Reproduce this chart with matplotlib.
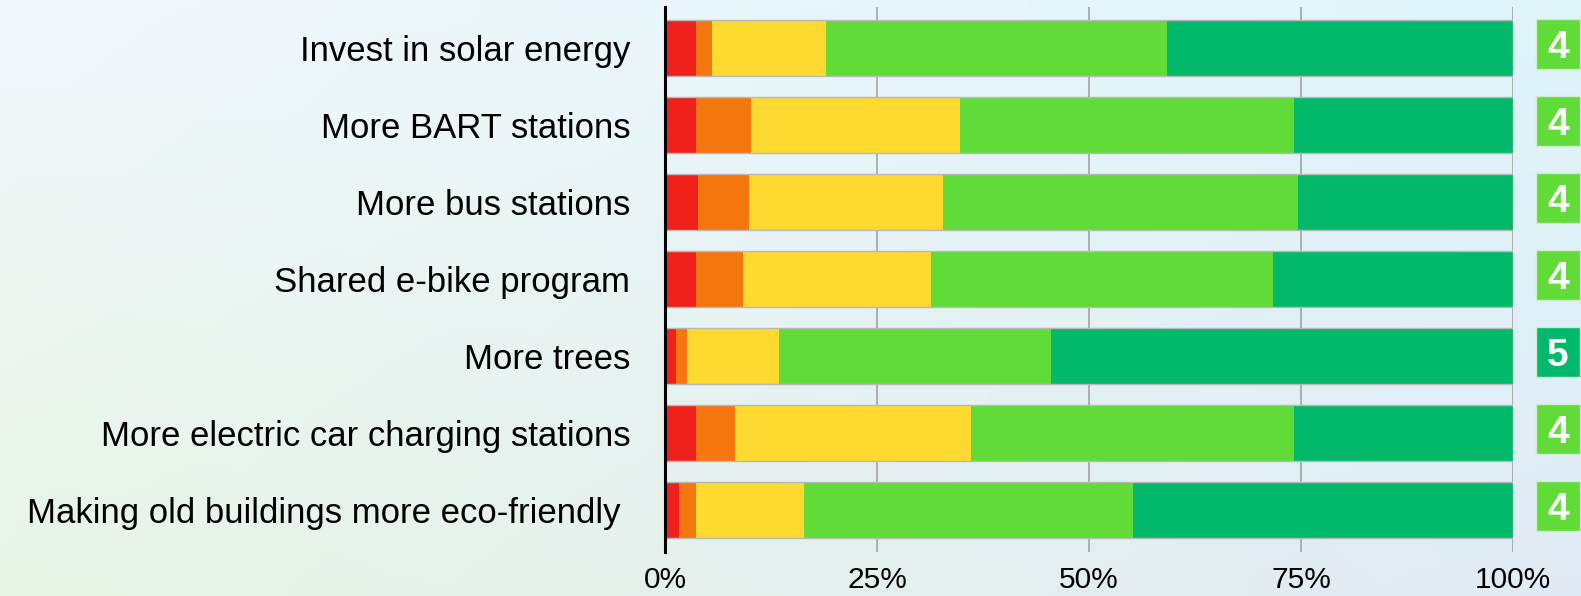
import matplotlib
matplotlib.use("Agg")
import matplotlib.pyplot as plt
import matplotlib.transforms as mtransforms
from matplotlib.patches import Rectangle
import numpy as np

plt.rcParams['font.family'] = ['Liberation Sans', 'DejaVu Sans']

categories = [
    "Invest in solar energy",
    "More BART stations",
    "More bus stations",
    "Shared e-bike program",
    "More trees",
    "More electric car charging stations",
    "Making old buildings more eco-friendly ",
]
very_negative = [3.6, 3.6, 3.9, 3.6, 1.3, 3.6, 1.65]
negative      = [2.0, 6.5, 6.0, 5.6, 1.3, 4.6, 1.95]
neutral       = [13.4, 24.7, 22.9, 22.2, 10.8, 27.9, 12.8]
positive      = [40.2, 39.4, 41.8, 40.3, 32.1, 38.1, 38.8]
very_positive = [40.8, 25.8, 25.4, 28.3, 54.5, 25.8, 44.8]
scores = [4, 4, 4, 4, 5, 4, 4]
tick_values = [0, 25, 50, 75, 100]
tick_labels = ["0%", "25%", "50%", "75%", "100%"]

colors = ["#f0211b", "#f4760e", "#fed930", "#61db38", "#02b86a"]
score_colors = {4: "#61db38", 5: "#02b86a"}

W, H = 1581, 596
fig = plt.figure(figsize=(W / 100, H / 100), dpi=100)

# background gradient
bg = fig.add_axes([0, 0, 1, 1], zorder=-10)
tl = np.array([0.95, 0.97, 0.99])
tr = np.array([0.87, 0.96, 0.98])
bl = np.array([0.91, 0.96, 0.90])
br = np.array([0.88, 0.92, 0.96])
u = np.linspace(0, 1, 200)[None, :, None]
v = np.linspace(0, 1, 100)[:, None, None]
img = (1 - v) * ((1 - u) * tl + u * tr) + v * ((1 - u) * bl + u * br)
bg.imshow(img, aspect='auto', extent=[0, 1, 0, 1], origin='upper')
bg.axis('off')

left = 665 / W
right = 1513 / W
top = 1 - 7 / H
bottom = 1 - 552 / H
ax = fig.add_axes([left, bottom, right - left, top - bottom])
ax.patch.set_alpha(0)

y = np.arange(len(categories))
series = [very_negative, negative, neutral, positive, very_positive]
h = 0.715
start = np.zeros(len(categories))
for vals, c in zip(series, colors):
    vals = np.array(vals)
    ax.barh(y, vals, left=start, height=h, color=c, edgecolor='none', zorder=3)
    start = start + vals
ax.barh(y, start, height=h, fill=False, edgecolor='#b8b8b8', linewidth=1.0, zorder=4)

ax.set_xlim(0, 100)
ax.set_ylim(6.545, -0.532)
ax.set_yticks(y)
ax.set_yticklabels(categories, fontsize=25)
ax.tick_params(axis='y', length=0, pad=25)
ax.set_xticks(tick_values)
ax.set_xticklabels(tick_labels, fontsize=21.5)
ax.tick_params(axis='x', length=0, pad=10)
ax.grid(axis='x', color='#a8a8a8', linewidth=1.3, zorder=0)
ax.set_axisbelow(True)
for s in ['top', 'right', 'bottom']:
    ax.spines[s].set_visible(False)
ax.spines['left'].set_color('black')
ax.spines['left'].set_linewidth(2.2)
ax.spines['left'].set_zorder(5)

trans = mtransforms.blended_transform_factory(ax.transAxes, ax.transData)
bw = 44 / 848
bx = (1558 - 665) / 848
bh = 50 / 77
for i, s in enumerate(scores):
    yc = i - 0.05
    ax.add_patch(Rectangle((bx - bw / 2, yc - bh / 2), bw, bh, transform=trans,
                           facecolor=score_colors[s], edgecolor='#d0ecd0',
                           linewidth=1.0, clip_on=False, zorder=6))
    ax.text(bx, yc, str(s), transform=trans, ha='center', va='center_baseline',
            color='white', fontsize=28, fontweight='bold', zorder=7, clip_on=False)

fig.savefig("out.png", dpi=100)
